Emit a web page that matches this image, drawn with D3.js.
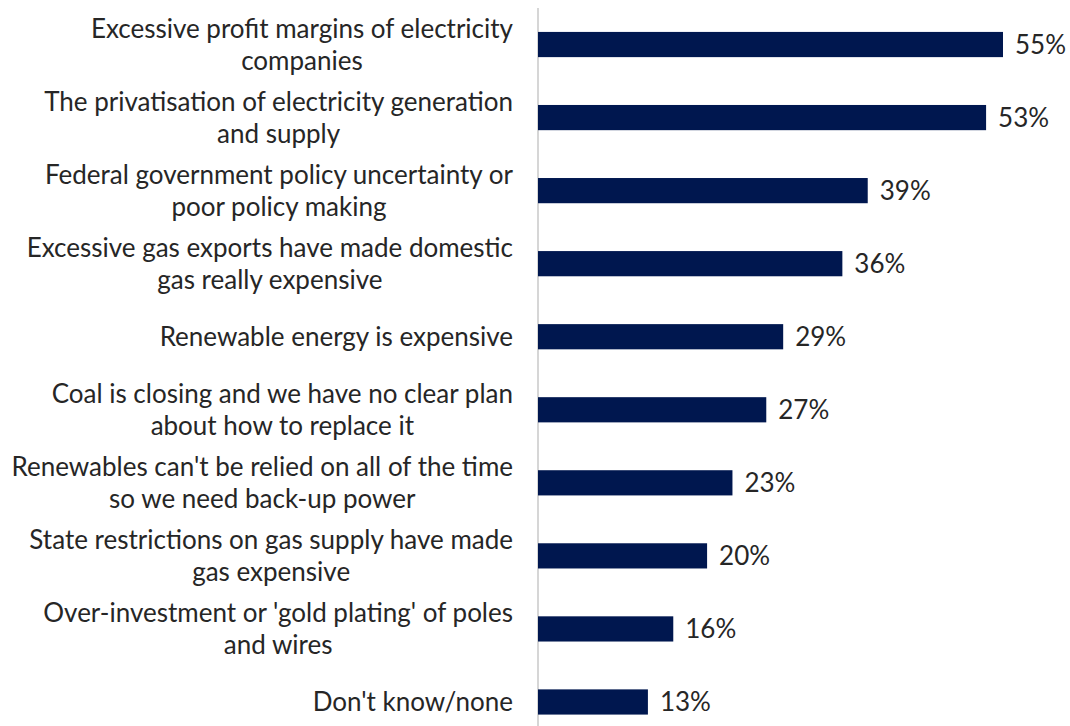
<!DOCTYPE html>
<html>
<head>
<meta charset="utf-8">
<script src="https://cdn.jsdelivr.net/npm/d3@7"></script>
<style>
  html, body { margin: 0; padding: 0; background: #ffffff; }
  svg { display: block; }
  text { font-family: Lato, "Open Sans", sans-serif; fill: #262626; }
</style>
</head>
<body>
<svg id="chart" width="1070" height="726"></svg>
<script>
// Reasons given for high electricity prices (share of respondents)
const categories = [
  ["Excessive profit margins of electricity", "companies"],
  ["The privatisation of electricity generation", "and supply"],
  ["Federal government policy uncertainty or", "poor policy making"],
  ["Excessive gas exports have made domestic", "gas really expensive"],
  ["Renewable energy is expensive"],
  ["Coal is closing and we have no clear plan", "about how to replace it"],
  ["Renewables can't be relied on all of the time", "so we need back-up power"],
  ["State restrictions on gas supply have made", "gas expensive"],
  ["Over-investment or 'gold plating' of poles", "and wires"],
  ["Don't know/none"]
];
const values = [55, 53, 39, 36, 29, 27, 23, 20, 16, 13];

const svg = d3.select("#chart");
const axisX = 538;
const labelRight = 513;
const fontSize = 26;
const lineGap = 32;

const keys = categories.map((c, i) => i);

const x = d3.scaleLinear().domain([0, 55]).range([axisX, 1003]);
const y = d3.scaleBand()
  .domain(keys)
  .range([8, 738.5])
  .paddingInner(0.655)
  .paddingOuter(0.3275);

// vertical category axis line
svg.append("line")
  .attr("x1", axisX).attr("x2", axisX)
  .attr("y1", 8).attr("y2", 726)
  .attr("stroke", "#c8c8c8").attr("stroke-width", 1.5);

// bars
svg.append("g").selectAll("rect")
  .data(values)
  .join("rect")
  .attr("x", x(0))
  .attr("y", (d, i) => y(i))
  .attr("width", d => x(d) - x(0))
  .attr("height", y.bandwidth())
  .attr("fill", "#00174f");

// value labels
svg.append("g").selectAll("text")
  .data(values)
  .join("text")
  .attr("x", d => x(d) + 12)
  .attr("y", (d, i) => y(i) + y.bandwidth() / 2)
  .attr("dy", "0.35em")
  .attr("font-size", fontSize)
  .text(d => d + "%");

// category labels: lines centred on each other, block right-aligned to the axis gap
const labelG = svg.append("g");
categories.forEach((lines, i) => {
  const g = labelG.append("g");
  const cy = y(i) + y.bandwidth() / 2;
  const texts = lines.map((ln, j) =>
    g.append("text")
      .attr("font-size", fontSize)
      .attr("y", cy + (j - (lines.length - 1) / 2) * lineGap)
      .attr("dy", "0.35em")
      .attr("text-anchor", "middle")
      .text(ln)
  );
  const maxW = d3.max(texts, t => t.node().getComputedTextLength());
  texts.forEach(t => t.attr("x", labelRight - maxW / 2));
});
</script>
</body>
</html>
